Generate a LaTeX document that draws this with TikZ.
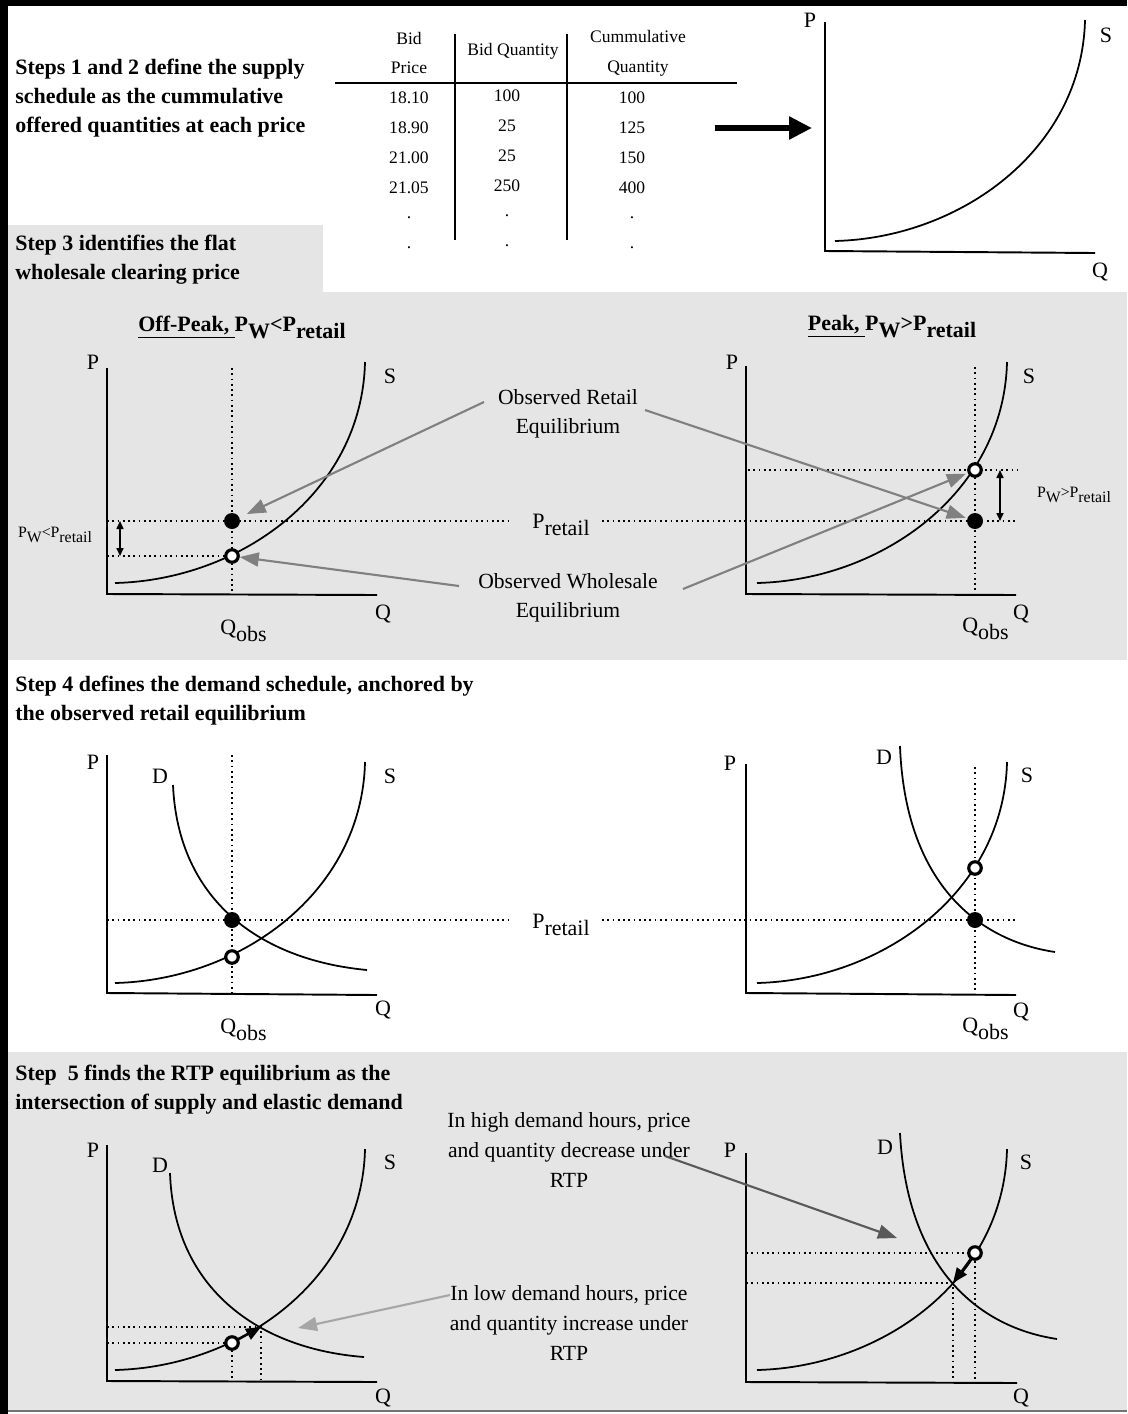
\documentclass[tikz,border=0pt]{standalone}
\usepackage{fontspec}
\setmainfont{Liberation Serif}
\usetikzlibrary{arrows.meta}
\newcommand\lo[1]{\raisebox{-0.7ex}{#1}}
\tikzset{
 panel/.style={fill=black!10},
 ax/.style={line width=1.1pt},
 crv/.style={line width=1pt},
 gd/.style={line width=1pt,dotted},
 fdot/.style={circle,fill=black,inner sep=0pt,minimum size=0.32cm},
 odot/.style={circle,draw=black,fill=white,line width=1.8pt,inner sep=0pt,minimum size=0.25cm},
 txt/.style={font=\fontsize{12.3}{16.8}\selectfont,align=center,inner sep=0pt},
 hd/.style={font=\bfseries\fontsize{12.5}{16.4}\selectfont,align=left,anchor=west,inner sep=0pt},
 ttl/.style={font=\bfseries\fontsize{12.5}{15}\selectfont,inner sep=0pt},
 lbl/.style={font=\fontsize{12.5}{15}\selectfont,inner sep=0pt},
 sml/.style={font=\fontsize{9}{11}\selectfont,inner sep=0pt},
 tab/.style={font=\fontsize{10}{17}\selectfont,inner sep=0pt},
 ga/.style={line width=1.2pt,-{Triangle[length=0.38cm,width=0.28cm]}},
 ba/.style={line width=1.2pt,-{Triangle[length=0.3cm,width=0.24cm]}},
 da/.style={line width=0.9pt,{Triangle[length=0.16cm,width=0.14cm]}-{Triangle[length=0.16cm,width=0.14cm]}}
}
\begin{document}
\begin{tikzpicture}[x=0.02cm,y=-0.02cm]
\useasboundingbox(0,0)rectangle(1127,1414);
% panels and frame
\fill[panel](8,225)rectangle(323,292);\fill[panel](8,292)rectangle(1127,660);
\fill[panel](8,1052)rectangle(1127,1410);
\fill(0,0)rectangle(8,1414);\fill(0,0)rectangle(1127,6);
\draw[black!55,line width=1.2pt](8,1411)--(1127,1411);
% steps 1 and 2
\node[hd](t12)at(15,98){Steps 1 and 2 define the supply\\schedule as the cummulative\\offered quantities at each price};
\node[tab,align=center](h1)at(409,53){Bid\\Price};\node[tab](h2)at(513,51){Bid Quantity};
\node[tab,align=center](h3)at(638,53){Cummulative\\Quantity};
\draw[ax](335,83)--(737,83);\draw[ax](455,34)--(455,240);\draw[ax](567,34)--(567,240);
\foreach \p/\b/\c [count=\i] in {18.10/100/100,18.90/25/125,21.00/25/150,21.05/250/400,./././,./././}{
 \node[tab](p\i)at(409,68+30*\i){\p};\node[tab](b\i)at(507,66+30*\i){\b};\node[tab](c\i)at(632,68+30*\i){\c};}
\coordinate(a0)at(715,128);\coordinate(a1)at(812,128);
\draw[line width=0.11cm,-{Triangle[length=0.46cm,width=0.44cm]}](a0)--(a1);
\coordinate(o0)at(825,251);\draw[ax](825,22)--(o0)--(1095,253);
\node[lbl](P0)at(810,20){P};\node[lbl](S0)at(1106,35){S};\node[lbl](Q0)at(1100,272){Q};
\draw[crv](835,241)..controls(960,238)and(1082,150)..(1085,20);
% step 3
\node[hd](t3)at(15,260){Step 3 identifies the flat\\wholesale clearing price};
\node[ttl](ti1)at(242,327){\underline{Off-Peak, }P\lo{W}<P\lo{retail}};
\node[ttl](ti2)at(892,327){\underline{Peak, }P\lo{W}>P\lo{retail}};
\coordinate(o1)at(107,594);\draw[ax](107,368)--(o1)--(377,595);
\node[lbl](P1)at(93,362){P};\node[lbl](S1)at(390,376){S};\node[lbl](Q1)at(383,614){Q};
\node[lbl,anchor=base west](qo1)at(220,634){Q\lo{obs}};
\draw[gd](232,368)--(232,594);\draw[gd](107,521)--(512,521);\draw[gd](107,556)--(232,556);
\draw[crv](115,583)..controls(240,580)and(362,493)..(365,362);
\node[fdot](fd1)at(232,521){};\node[odot](od1)at(232,556){};
\coordinate(m1)at(120,521);\coordinate(n1)at(120,556);\draw[da](m1)--(n1);
\node[sml](pw1)at(55,535){P\lo{W}<P\lo{retail}};
\node[txt](ret)at(568,414){Observed Retail\\Equilibrium};
\node[lbl,anchor=base west](pr1)at(532,528){P\lo{retail}};
\node[txt](whl)at(568,598){Observed Wholesale\\Equilibrium};
\coordinate(o2)at(746,594);\draw[ax](746,366)--(o2)--(1016,595);
\node[lbl](P2)at(732,362){P};\node[lbl](S2)at(1029,376){S};\node[lbl](Q2)at(1021,614){Q};
\node[lbl,anchor=base west](qo2)at(962,632){Q\lo{obs}};
\draw[gd](975,367)--(975,594);\draw[gd](748,470)--(1017,470);\draw[gd](602,521)--(1017,521);
\draw[crv](757,583)..controls(882,580)and(1004,492)..(1007,362);
\node[odot](od2)at(975,470){};\node[fdot](fd2)at(975,521){};
\coordinate(m2)at(1000,470);\coordinate(n2)at(1000,521);\draw[da](m2)--(n2);
\node[sml](pw2)at(1074,495){P\lo{W}>P\lo{retail}};
\coordinate(r0)at(484,402);\coordinate(r1)at(645,410);\coordinate(w0)at(459,586);\coordinate(w1)at(683,589);
\draw[ga,gray,shorten >=0.16cm](r0)--(fd1);\draw[ga,gray](w0)--(od1);
\draw[ga,gray,shorten >=0.03cm](r1)--(fd2);\draw[ga,gray,shorten >=0.04cm](w1)--(od2);
% step 4
\node[hd](t4)at(15,701){Step 4 defines the demand schedule, anchored by\\the observed retail equilibrium};
\coordinate(o3)at(107,993);\draw[ax](107,755)--(o3)--(377,995);
\node[lbl](P3)at(93,762){P};\node[lbl](D3)at(160,776){D};\node[lbl](S3)at(390,776){S};\node[lbl](Q3)at(383,1010){Q};
\node[lbl,anchor=base west](qo3)at(220,1033){Q\lo{obs}};
\draw[gd](232,755)--(232,993);\draw[gd](107,920)--(512,920);
\draw[crv](115,983)..controls(240,980)and(362,893)..(365,762);
\draw[crv](173,785)..controls(178,900)and(260,960)..(367,970);
\node[fdot](fd3)at(232,920){};\node[odot](od3)at(232,957){};
\node[lbl,anchor=base west](pr2)at(532,928){P\lo{retail}};
\coordinate(o4)at(746,993);\draw[ax](746,764)--(o4)--(1016,995);
\node[lbl](P4)at(730,763){P};\node[lbl](D4)at(884,757){D};\node[lbl](S4)at(1027,775){S};\node[lbl](Q4)at(1021,1012){Q};
\node[lbl,anchor=base west](qo4)at(962,1032){Q\lo{obs}};
\draw[gd](975,767)--(975,993);\draw[gd](602,920)--(1017,920);
\draw[crv](757,983)..controls(882,980)and(1004,892)..(1007,762);
\draw[crv](900,746)..controls(905,880)and(975,940)..(1055,952);
\node[odot](od4)at(975,868){};\node[fdot](fd4)at(975,920){};
% step 5
\node[hd](t5)at(15,1090){Step\ \ 5 finds the RTP equilibrium as the\\intersection of supply and elastic demand};
\coordinate(o5)at(107,1381);\draw[ax](107,1145)--(o5)--(377,1382);
\node[lbl](P5)at(93,1150){P};\node[lbl](D5)at(160,1165){D};\node[lbl](S5)at(390,1162){S};\node[lbl](Q5)at(383,1398){Q};
\draw[gd](107,1327)--(261,1327)--(261,1381);\draw[gd](107,1343)--(232,1343)--(232,1381);
\draw[crv](115,1370)..controls(240,1367)and(362,1280)..(365,1149);
\draw[crv](170,1173)..controls(174,1289)and(259,1349)..(364,1357);
\coordinate(x5)at(261,1327);\node[odot](od5)at(232,1343){};\draw[ba](od5)--(x5);
\coordinate(o6)at(746,1382);\draw[ax](746,1153)--(o6)--(1017,1383);
\node[lbl](P6)at(730,1150){P};\node[lbl](D6)at(885,1147){D};\node[lbl](S6)at(1026,1162){S};\node[lbl](Q6)at(1021,1398){Q};
\draw[gd](746,1253)--(975,1253)--(975,1382);\draw[gd](746,1283)--(953,1283)--(953,1382);
\draw[crv](757,1370)..controls(882,1367)and(1004,1280)..(1007,1149);
\draw[crv](900,1133)..controls(907,1267)and(977,1327)..(1057,1339);
\coordinate(x6)at(953,1283);\node[odot](od6)at(975,1253){};\draw[ba](od6)--(x6);
\node[txt](hi)at(569,1150){In high demand hours, price\\and quantity decrease under\\RTP};
\node[txt](lw)at(569,1323){In low demand hours, price\\and quantity increase under\\RTP};
\coordinate(h0)at(665,1156);\coordinate(h1)at(897,1238);\draw[ga,black!65](h0)--(h1);
\coordinate(l0)at(450,1295);\coordinate(l1)at(298,1328);\draw[ga,black!35](l0)--(l1);
\end{tikzpicture}
\end{document}
